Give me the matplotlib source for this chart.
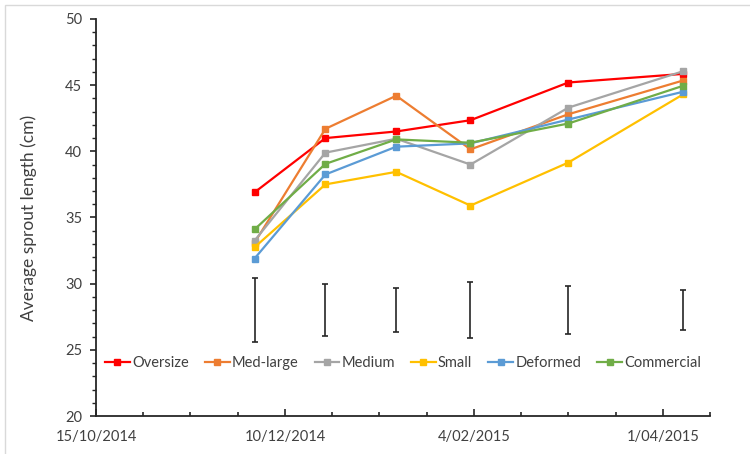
import datetime as dt
import numpy as np
import matplotlib
matplotlib.use('Agg')
import matplotlib.pyplot as plt
from matplotlib.patches import Rectangle

plt.rcParams['font.family'] = ['Lato', 'DejaVu Sans']

# sampling dates
dates = [dt.date(2014, 12, 1), dt.date(2014, 12, 22), dt.date(2015, 1, 12),
         dt.date(2015, 2, 3), dt.date(2015, 3, 4), dt.date(2015, 4, 7)]

oversize = [36.9, 41.0, 41.5, 42.35, 45.2, 45.85]
med_large = [33.1, 41.7, 44.2, 40.15, 42.8, 45.35]
medium = [33.25, 39.9, 40.95, 39.0, 43.3, 46.05]
small = [32.75, 37.5, 38.45, 35.9, 39.15, 44.3]
deformed = [31.9, 38.25, 40.35, 40.6, 42.4, 44.5]
commercial = [34.1, 39.05, 40.9, 40.65, 42.1, 44.95]

series_names = ['Oversize', 'Med-large', 'Medium', 'Small', 'Deformed', 'Commercial']
series_colors = ['#FF0000', '#ED7D31', '#A5A5A5', '#FFC000', '#5B9BD5', '#70AD47']

# LSD-style bars drawn on a dummy series
bar_centre = [28.0, 28.0, 28.0, 28.0, 28.0, 28.0]
bar_half = [2.43, 1.97, 1.67, 2.1, 1.83, 1.53]

x_start = dt.date(2014, 10, 15)
x_end = dt.date(2015, 4, 14)
x_tick_labels = ['15/10/2014', '10/12/2014', '4/02/2015', '1/04/2015']

fig = plt.figure(figsize=(7.5, 4.54), dpi=100)
ax = fig.add_axes([0.128, 0.0837, 0.8187, 0.8745])

# chart-area border (top and left visible in the original)
fig.add_artist(Rectangle((0.007, -0.02), 1.2, 1.01, transform=fig.transFigure,
                         fill=False, edgecolor='#D9D9D9', linewidth=1.0))

all_series = [oversize, med_large, medium, small, deformed, commercial]
for vals, name, col in zip(all_series, series_names, series_colors):
    ax.plot(dates, vals, color=col, lw=1.6, marker='s', ms=4.8, label=name)

ax.errorbar(dates, bar_centre, yerr=bar_half, fmt='none', ecolor='#262626',
            elinewidth=1.2, capsize=2.5, capthick=1.2)

ax.set_xlim(x_start, x_end)
ax.set_ylim(20, 50)

major = [x_start + dt.timedelta(days=56 * k) for k in range(4)]
minor = [x_start + dt.timedelta(days=14 * k) for k in range(14)]
ax.set_xticks(major)
ax.set_xticklabels(x_tick_labels)
ax.set_xticks(minor, minor=True)
ax.set_yticks(np.arange(20, 51, 5))
ax.set_yticks(np.arange(20, 51, 1), minor=True)

for s in ['top', 'right']:
    ax.spines[s].set_visible(False)
for s in ['left', 'bottom']:
    ax.spines[s].set_color('#262626')
    ax.spines[s].set_linewidth(1.3)

ax.tick_params(axis='x', which='both', direction='in', colors='#262626',
               labelcolor='#404040', labelsize=10.5, pad=10)
ax.tick_params(axis='x', which='major', length=5, width=1.2)
ax.tick_params(axis='x', which='minor', length=3, width=1.2)
ax.tick_params(axis='y', which='both', direction='out', colors='#262626',
               labelcolor='#404040', labelsize=10.5, pad=6)
ax.tick_params(axis='y', which='major', length=4, width=1.2)
ax.tick_params(axis='y', which='minor', length=3, width=1.0)

ax.set_ylabel('Average sprout length (cm)', fontsize=12.5, color='#404040', labelpad=20)

ax.legend(loc='center', bbox_to_anchor=(0.5, 0.134), ncol=6, frameon=False,
          fontsize=10.5, handlelength=1.7, handletextpad=0.15, columnspacing=1.1,
          labelcolor='#404040', markerscale=0.8)

fig.savefig('out.png', dpi=100)
